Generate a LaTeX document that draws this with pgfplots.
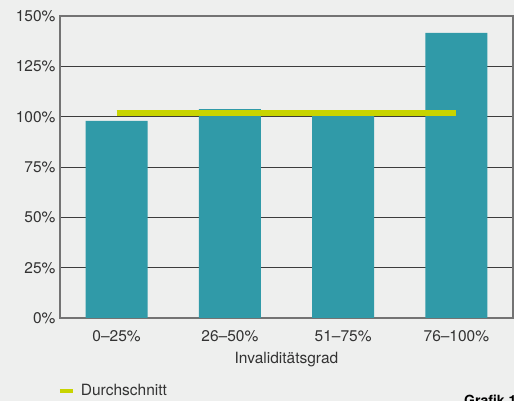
\documentclass[border=0pt]{standalone}
\usepackage{pgfplots}
\pgfplotsset{compat=1.18}
\usepackage{fontspec}
\setmainfont{TeX Gyre Heros}
\definecolor{bg}{RGB}{238,239,238}
\definecolor{bar}{RGB}{48,154,168}
\definecolor{avg}{RGB}{200,212,0}
\definecolor{txt}{RGB}{51,51,51}
\definecolor{grid}{RGB}{60,60,60}

\begin{document}
\begin{tikzpicture}
\fill[bg] (-60pt,-83pt) rectangle (454pt,318pt);
\useasboundingbox (-60pt,-83pt) rectangle (454pt,318pt);
\begin{axis}[
  at={(0,0)}, anchor=south west,
  scale only axis, width=453pt, height=302pt,
  xmin=-0.5, xmax=3.5, ymin=0, ymax=150,
  xtick={0,1,2,3},
  xticklabels={0--25\%,26--50\%,51--75\%,76--100\%},
  ytick={0,25,50,75,100,125,150},
  yticklabel={\pgfmathprintnumber{\tick}\%},
  /pgf/number format/assume math mode=true,
  ymajorgrids,
  major grid style={draw=grid, line width=0.9pt},
  axis line style={draw=black!55, line width=1.5pt},
  major tick length=0pt,
  tick label style={font=\fontsize{15.5}{18}\selectfont, text=txt},
  xticklabel style={yshift=-9pt},
  yticklabel style={xshift=-1pt},
  xlabel={Invaliditätsgrad},
  xlabel style={font=\fontsize{15.5}{18}\selectfont, text=txt, yshift=-4pt},
  axis background/.style={fill=bg},
  legend style={at={(axis description cs:-0.005,-0.242)}, anchor=west,
    draw=none, fill=none, inner xsep=0pt, inner ysep=0pt,
    font=\fontsize{15.5}{18}\selectfont, text=txt},
  legend cell align=left,
]
\addplot[ybar, bar width=62pt, fill=bar, draw=none, forget plot]
  coordinates {(0,97.9) (1,103.8) (2,101.0) (3,141.6)};
\addplot[avg, line width=6pt,
  legend image code/.code={\draw[avg, line width=4pt] (0pt,0pt) -- (13pt,0pt);}]
  coordinates {(0,101.8) (3,101.8)};
\addlegendentry{\hspace{4pt}Durchschnitt}
\end{axis}
\node[anchor=north west, inner sep=0pt, text=black, font=\fontsize{14}{16}\selectfont\bfseries]
  at (404pt,-77pt) {Grafik 1};
\end{tikzpicture}
\end{document}
